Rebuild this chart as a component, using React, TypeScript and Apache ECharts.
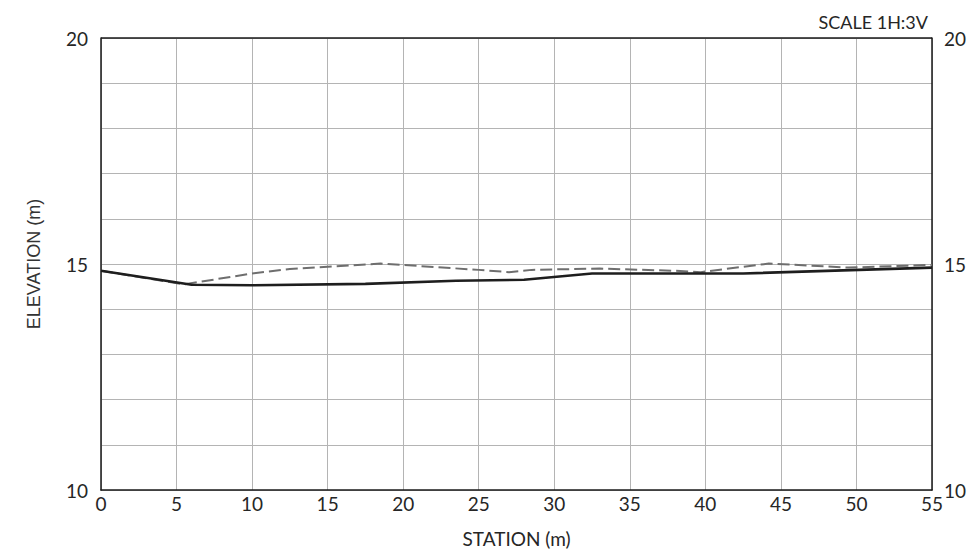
import React, { useEffect, useRef } from "react";
import * as echarts from "echarts";

const groundStations = [0, 6, 10, 17.5, 23.5, 28, 32.5, 42.5, 55];
const groundElev = [14.85, 14.54, 14.53, 14.56, 14.63, 14.65, 14.79, 14.79, 14.92];

const designStations = [0, 5.5, 10, 12.5, 15, 18.5, 25, 27, 28.5, 33, 38, 39.7, 44.2, 49.5, 55];
const designElev = [14.85, 14.55, 14.79, 14.89, 14.94, 15.01, 14.87, 14.82, 14.87, 14.9, 14.85, 14.82, 15.01, 14.92, 14.98];

const xMin = 0;
const xMax = 55;
const xStep = 5;
const yMin = 10;
const yMax = 20;
const yStep = 1;
const yLabelStep = 5;

const xName = "STATION (m)";
const yName = "ELEVATION (m)";
const scaleNote = "SCALE 1H:3V";

const FONT = "Lato, 'Noto Sans', sans-serif";
const FS = 19;
const TXT = "#262626";

export default function App() {
  const ref = useRef<HTMLDivElement>(null);
  useEffect(() => {
    if (!ref.current) return;
    const chart = echarts.init(ref.current, undefined, { renderer: "svg" });
    const yLabel = (v: number) => (Math.round(v) % yLabelStep === 0 ? String(v) : "");
    chart.setOption({
      animation: false,
      backgroundColor: "#ffffff",
      textStyle: { fontFamily: FONT },
      grid: { left: 101, right: 48, top: 38, bottom: 66, containLabel: false },
      graphic: [
        {
          type: "text",
          right: 52,
          top: 13,
          style: { text: scaleNote, fontFamily: FONT, fontSize: 18, fill: TXT },
        },
      ],
      xAxis: {
        type: "value",
        min: xMin,
        max: xMax,
        interval: xStep,
        name: xName,
        nameLocation: "middle",
        nameGap: 39,
        nameTextStyle: { fontFamily: FONT, fontSize: FS, color: TXT },
        axisLine: { show: true, lineStyle: { color: "#1a1a1a", width: 1.5 } },
        axisTick: { show: false },
        axisLabel: { fontFamily: FONT, fontSize: FS, color: TXT, margin: 4 },
        splitLine: { show: true, lineStyle: { color: "#b4b4b4", width: 1 } },
      },
      yAxis: [
        {
          type: "value",
          min: yMin,
          max: yMax,
          interval: yStep,
          name: yName,
          nameLocation: "middle",
          nameGap: 58,
          nameTextStyle: { fontFamily: "'Liberation Sans', Arial, sans-serif", fontSize: 18, color: "#333" },
          axisLine: { show: true, lineStyle: { color: "#1a1a1a", width: 1.5 } },
          axisTick: { show: false },
          axisLabel: { fontFamily: FONT, fontSize: FS, color: TXT, margin: 13, formatter: yLabel },
          splitLine: { show: true, lineStyle: { color: "#b4b4b4", width: 1 } },
        },
        {
          type: "value",
          position: "right",
          min: yMin,
          max: yMax,
          interval: yStep,
          axisLine: { show: true, lineStyle: { color: "#1a1a1a", width: 1.5 } },
          axisTick: { show: false },
          axisLabel: { fontFamily: FONT, fontSize: FS, color: TXT, margin: 12, formatter: yLabel },
          splitLine: { show: false },
        },
      ],
      series: [
        {
          type: "line",
          data: designStations.map((s, i) => [s, designElev[i]]),
          showSymbol: false,
          symbol: "none",
          lineStyle: { color: "#6e6e6e", width: 2, type: [12, 5] },
          z: 3,
        },
        {
          type: "line",
          data: groundStations.map((s, i) => [s, groundElev[i]]),
          showSymbol: false,
          symbol: "none",
          lineStyle: { color: "#1e1e1e", width: 2.6 },
          z: 4,
        },
        {
          type: "line",
          data: [],
          markLine: {
            silent: true,
            symbol: "none",
            label: { show: false },
            lineStyle: { color: "#1a1a1a", width: 1.5, type: "solid" },
            data: [[{ coord: [xMin, yMax] }, { coord: [xMax, yMax] }]],
          },
        },
      ],
    });
    return () => chart.dispose();
  }, []);
  return (
    <div
      ref={ref}
      style={{ position: "absolute", left: 0, top: 0, width: 980, height: 556 }}
    />
  );
}
